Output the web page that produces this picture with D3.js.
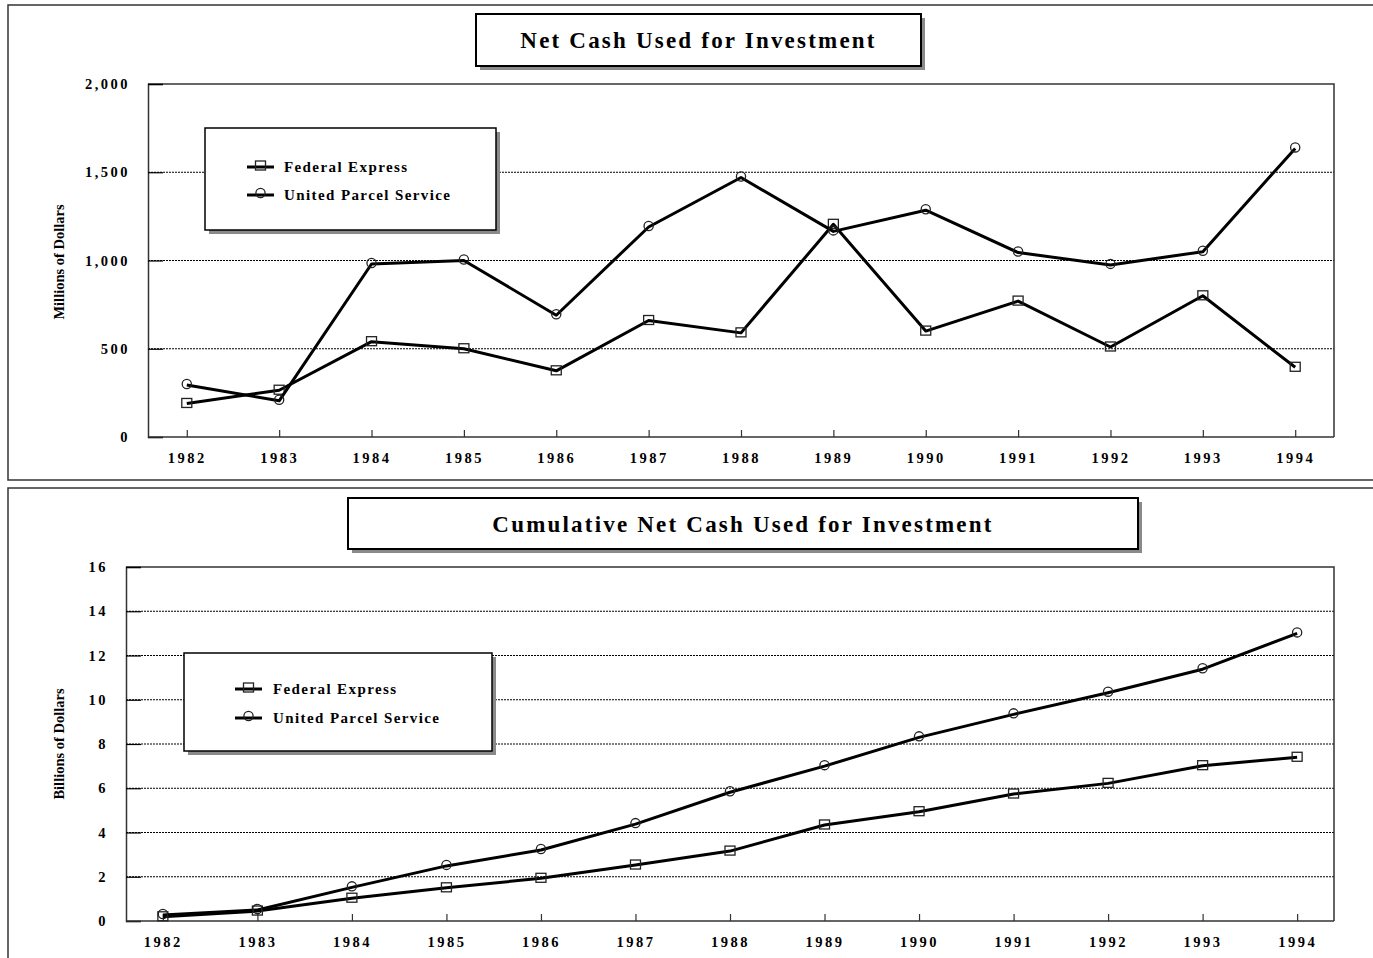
<!DOCTYPE html>
<html><head><meta charset="utf-8">
<script src="https://cdn.jsdelivr.net/npm/d3@7"></script>
<style>
html,body{margin:0;padding:0;background:#fff;overflow:hidden}
svg{display:block}
text{font-family:"Liberation Serif","Times New Roman",serif;font-weight:bold;fill:#000}
</style></head>
<body>
<svg id="c" width="1373" height="958"></svg>
<script>
const years = [1982,1983,1984,1985,1986,1987,1988,1989,1990,1991,1992,1993,1994];
const seriesNames = ["Federal Express","United Parcel Service"];
// Net cash used for investment, millions of dollars
const fedexAnnual = [190,265,540,500,375,660,590,1205,600,770,510,800,395];
const upsAnnual   = [295,205,980,1000,690,1190,1470,1165,1285,1045,975,1050,1635];
// Cumulative, billions of dollars
const fedexCum = [0.19,0.45,1.03,1.5,1.93,2.53,3.16,4.34,4.94,5.74,6.22,7.02,7.4];
const upsCum   = [0.27,0.5,1.52,2.49,3.21,4.38,5.82,7.0,8.3,9.34,10.32,11.38,13.0];
const annualTicks = [0,500,1000,1500,2000];
const cumTicks = [0,2,4,6,8,10,12,14,16];

const svg = d3.select("#c");

function drawChart(o){
  const g = svg.append("g");
  // panel frame
  g.append("rect").attr("x",o.panel[0]).attr("y",o.panel[1]).attr("width",o.panel[2]).attr("height",o.panel[3])
    .attr("fill","none").attr("stroke","#333").attr("stroke-width",1.5);
  // title box
  const tb = o.titleBox;
  g.append("rect").attr("x",tb[0]+4).attr("y",tb[1]+4).attr("width",tb[2]).attr("height",tb[3]).attr("fill","#8a8a8a");
  g.append("rect").attr("x",tb[0]).attr("y",tb[1]).attr("width",tb[2]).attr("height",tb[3]).attr("fill","#fff")
    .attr("stroke","#000").attr("stroke-width",2);
  g.append("text").attr("x",tb[0]+tb[2]/2).attr("y",tb[1]+tb[3]/2+8).attr("text-anchor","middle")
    .style("font-size","23px").style("letter-spacing","2.2px").text(o.title);

  const [L,T,R,B] = o.plot;
  const x = d3.scalePoint().domain(years).range([L,R]).padding(o.xpad);
  const y = d3.scaleLinear().domain([0,o.ymax]).range([B,T]);

  // gridlines
  g.selectAll(".grid").data(o.ticks.filter(t=>t>0 && t<o.ymax)).enter().append("line")
    .attr("x1",L).attr("x2",R).attr("y1",d=>y(d)).attr("y2",d=>y(d))
    .attr("stroke","#000").attr("stroke-width",1.2).attr("stroke-dasharray","2,1");
  // plot frame top/right
  g.append("path").attr("d",`M${L},${T}H${R}V${B}`).attr("fill","none").attr("stroke","#333").attr("stroke-width",1.5);

  // y axis
  const ya = d3.axisLeft(y).tickValues(o.ticks).tickSize(-15).tickPadding(18).tickFormat(o.fmt);
  const yg = g.append("g").attr("transform",`translate(${L},0)`).call(ya);
  yg.select(".domain").attr("stroke","#333").attr("stroke-width",1.5);
  yg.selectAll(".tick line").attr("stroke","#000").attr("stroke-width",1.2);
  yg.selectAll("text").style("font-size","14.5px").style("letter-spacing","2.5px").attr("fill","#000")
    .style("font-family","Liberation Serif, serif").style("font-weight","bold");

  // x axis
  const xa = d3.axisBottom(x).tickSize(-7).tickPadding(16).tickSizeOuter(0);
  const xg = g.append("g").attr("transform",`translate(0,${B})`).call(xa);
  xg.select(".domain").attr("d",`M${L},0H${R}`).attr("stroke","#333").attr("stroke-width",1.5);
  xg.selectAll(".tick line").attr("stroke","#333").attr("stroke-width",1.2);
  xg.selectAll("text").style("font-size","14.5px").style("letter-spacing","2.5px").attr("fill","#000")
    .style("font-family","Liberation Serif, serif").style("font-weight","bold");

  // y label
  g.append("text").attr("transform",`translate(${o.ylab[0]},${o.ylab[1]}) rotate(-90)`).attr("text-anchor","middle")
    .style("font-size","14.5px").text(o.ylabel);

  // series
  const line = d3.line().x((d,i)=>x(years[i])).y(d=>y(d));
  o.series.forEach((s,k)=>{
    g.append("path").datum(s).attr("d",line).attr("fill","none").attr("stroke","#000").attr("stroke-width",3)
      .attr("stroke-linejoin","round");
    const m = g.append("g");
    s.forEach((v,i)=>marker(m,x(years[i]),y(v),k));
  });

  // legend
  const lb = o.legend;
  g.append("rect").attr("x",lb[0]+4).attr("y",lb[1]+4).attr("width",lb[2]).attr("height",lb[3]).attr("fill","#8a8a8a");
  g.append("rect").attr("x",lb[0]).attr("y",lb[1]).attr("width",lb[2]).attr("height",lb[3]).attr("fill","#fff")
    .attr("stroke","#000").attr("stroke-width",1.5);
  seriesNames.forEach((n,k)=>{
    const yy = lb[1]+o.legRow0+k*o.legGap;
    const sx = lb[0]+o.legSym;
    g.append("line").attr("x1",sx).attr("x2",sx+27).attr("y1",yy).attr("y2",yy).attr("stroke","#000").attr("stroke-width",3);
    marker(g,sx+13.5,yy-1,k);
    g.append("text").attr("x",lb[0]+o.legText).attr("y",yy+5).style("font-size","15px").style("letter-spacing","1.4px").text(n);
  });
}

function marker(g,cx,cy,k){
  if(k===0){
    g.append("rect").attr("x",cx-5).attr("y",cy-5).attr("width",10).attr("height",9)
      .attr("fill","none").attr("stroke","#222").attr("stroke-width",1.3);
  } else {
    g.append("circle").attr("cx",cx).attr("cy",cy-1).attr("r",4.6)
      .attr("fill","none").attr("stroke","#222").attr("stroke-width",1.3);
  }
}

drawChart({
  panel:[8,5,1400,475],
  titleBox:[476,14,445,52],
  title:"Net Cash Used for Investment",
  plot:[148,84,1334,437],
  xpad:0.42, ymax:2000, ticks:annualTicks, fmt:d3.format(","),
  ylabel:"Millions of Dollars", ylab:[64,262],
  series:[fedexAnnual,upsAnnual],
  legend:[205,128,291,102], legRow0:39, legGap:28, legSym:42, legText:79
});
drawChart({
  panel:[8,488,1400,500],
  titleBox:[348,498,790,51],
  title:"Cumulative Net Cash Used for Investment",
  plot:[126,567,1334,921],
  xpad:0.39, ymax:16, ticks:cumTicks, fmt:d3.format("d"),
  ylabel:"Billions of Dollars", ylab:[64,744],
  series:[fedexCum,upsCum],
  legend:[184,653,308,98], legRow0:36, legGap:29, legSym:51, legText:89
});
</script>
</body></html>
